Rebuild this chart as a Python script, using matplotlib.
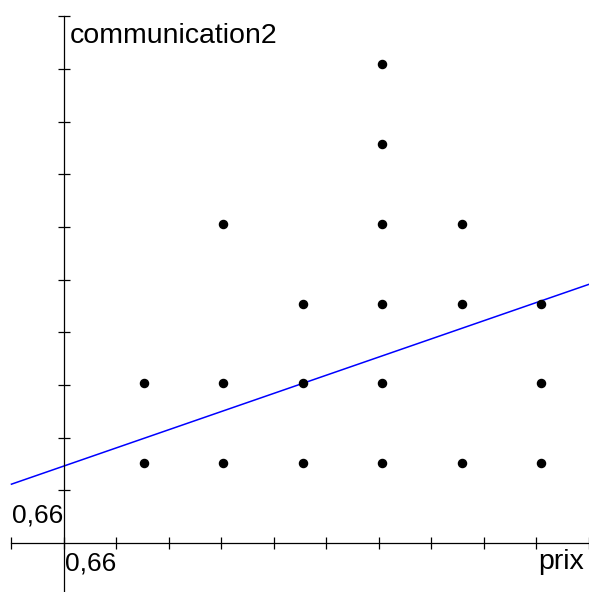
import numpy as np
import matplotlib
matplotlib.use("Agg")
import matplotlib.pyplot as plt

# data
prix = [1, 1, 2, 2, 2, 3, 3, 3, 4, 4, 4, 4, 4, 4, 5, 5, 5, 6, 6, 6]
communication2 = [1, 2, 1, 2, 4, 1, 2, 3, 1, 2, 3, 4, 5, 6, 1, 3, 4, 1, 2, 3]
intercept = 0.965
slope = 0.345
tick_step = 0.66

W, H = 589, 592
fig = plt.figure(figsize=(W / 100, H / 100), dpi=100)
ax = fig.add_axes([0, 0, 1, 1])

xmin, xmax = -0.804, 6.595
ymin, ymax = -0.614, 6.805
ax.set_xlim(xmin, xmax)
ax.set_ylim(ymin, ymax)

# axes crossing at the origin
for side in ["top", "right"]:
    ax.spines[side].set_visible(False)
ax.spines["left"].set_position(("data", 0))
ax.spines["bottom"].set_position(("data", 0))
ax.spines["left"].set_bounds(ymin, 10 * tick_step)
ax.spines["bottom"].set_bounds(-tick_step, xmax)
for side in ["left", "bottom"]:
    ax.spines[side].set_linewidth(0.9)

ax.set_xticks([tick_step * k for k in range(-1, 11)])
ax.set_yticks([tick_step * k for k in range(1, 11)])
ax.tick_params(direction="inout", length=8, width=0.9, labelbottom=False, labelleft=False)

# regression line
xs = np.array([-tick_step, xmax])
ax.plot(xs, intercept + slope * xs, color="#0000ff", lw=1.1, clip_on=False)

ax.scatter(prix, communication2, s=34, color="black", zorder=3)

fam = ["Liberation Sans", "DejaVu Sans"]
fig.text(70 / W, 1 - 43 / H, "communication2", ha="left", va="baseline", family=fam, fontsize=20.5)
fig.text(63 / W, 1 - 522 / H, "0,66", ha="right", va="baseline", family=fam, fontsize=19)
fig.text(65 / W, 1 - 571 / H, "0,66", ha="left", va="baseline", family=fam, fontsize=19)
fig.text(538 / W, 1 - 569 / H, "prix", ha="left", va="baseline", family=fam, fontsize=20.5)

fig.savefig("out.png", dpi=100)
